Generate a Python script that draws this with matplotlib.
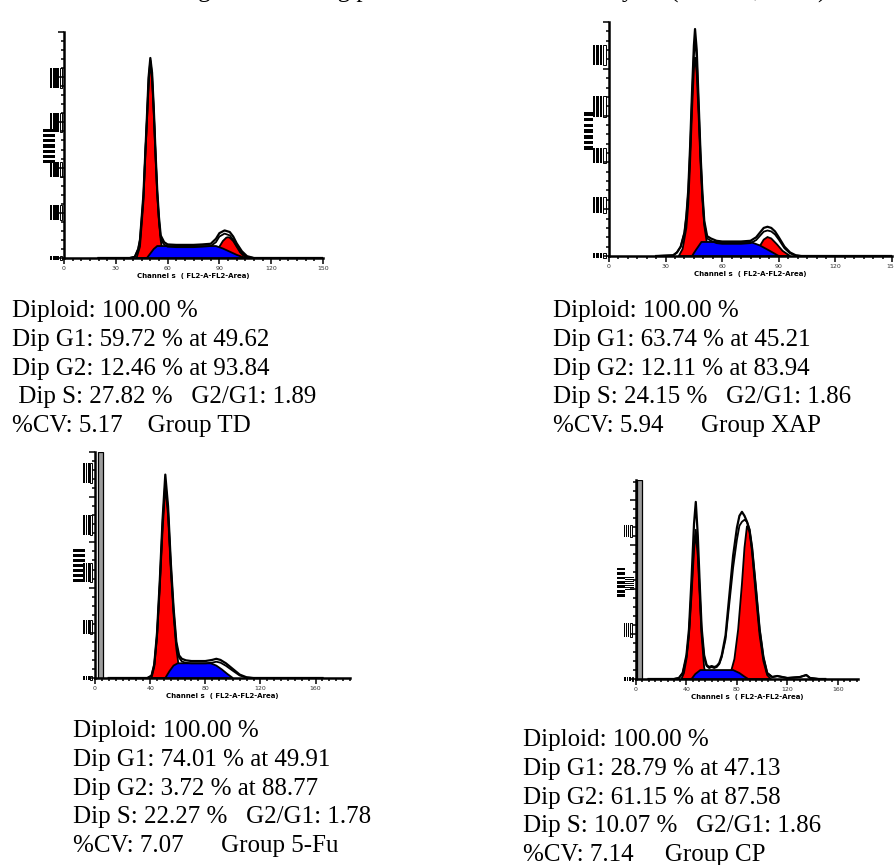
import matplotlib
matplotlib.use('Agg')
import matplotlib.pyplot as plt
from matplotlib.patches import Rectangle
from matplotlib.ticker import MultipleLocator

# ---------------- data (channel, % of y range) ----------------
# Group TD
td_ch = [20, 38, 41, 43, 44, 46, 48, 49, 50, 51, 52, 53, 54, 55, 56, 57, 58, 60, 65, 70, 75, 80, 85,
         88, 90, 93, 96, 98, 100, 103, 106, 110, 150]
td_hist = [0, 0, 0.5, 4, 8, 28, 62, 80, 88.5, 82, 66, 47, 30, 18, 10, 8.5, 7, 6, 5.8, 5.8, 5.8, 6, 6.3,
           8.5, 11, 12.2, 11.5, 9.5, 6.5, 3, 0.8, 0, 0]
td_hist2 = [0, 0, 0.5, 4, 8, 27, 61, 79, 87.5, 81, 65, 46, 29, 17, 9, 7, 6, 5, 4.8, 4.8, 4.8, 5, 5.3,
            7, 9.5, 10.8, 10, 8, 5.3, 2.2, 0.5, 0, 0]
td_g1_ch = [42, 44, 46, 47, 48, 49, 50, 51, 52, 53, 54, 55, 56, 57, 58, 60]
td_g1 = [0, 5, 25, 45, 60, 76, 87, 79, 64, 45, 28, 16, 8, 3, 1, 0]
td_g2_ch = [84, 87, 90, 92, 94, 95, 96, 98, 100, 102, 104, 107]
td_g2 = [0, 2, 5, 7.5, 9, 9.2, 9, 7.5, 5, 2.5, 1, 0]
td_s_ch = [48, 50, 52, 54, 88, 92, 96, 100, 105]
td_s = [0, 2, 4, 5.3, 5.3, 4.2, 2.8, 1.4, 0]

# Group XAP
xap_ch = [25, 34, 36, 38, 40, 41, 42, 43, 44, 45, 45.6, 46.5, 47.5, 48.5, 49.5, 50.5, 52, 54, 57, 60,
          65, 70, 75, 78, 80, 82, 84, 86, 88, 90, 93, 96, 99, 102, 150]
xap_hist = [0, 0.3, 1.5, 4, 10, 17, 28, 47, 70, 90, 97, 88, 66, 44, 27, 15, 8.5, 7.5, 6.5, 6.2,
            6.2, 6.2, 6.5, 8, 10, 12, 12.5, 12, 10.5, 8, 4, 1.5, 0.3, 0, 0]
xap_hist2 = [0, 0.3, 1.5, 4, 10, 17, 27, 45, 67, 86, 92, 85, 64, 43, 26, 14, 7.5, 6.5, 5.5, 5.2,
             5.2, 5.2, 5.5, 6.8, 8.6, 10.4, 10.9, 10.5, 9.2, 7, 3.3, 1.1, 0.2, 0, 0]
xap_g1_ch = [37, 39, 41, 42, 43, 44, 45, 45.6, 46.5, 47.5, 48.5, 49.5, 50.5, 52, 54, 56]
xap_g1 = [0, 3, 12, 22, 40, 62, 80, 85, 78, 60, 40, 24, 13, 5, 1.5, 0]
xap_g2_ch = [76, 79, 82, 84, 86, 89, 92, 96]
xap_g2 = [0, 3, 7, 8.1, 7.5, 5, 2.2, 0]
xap_s_ch = [44, 46, 49, 75, 80, 85, 90]
xap_s = [0, 2.5, 6, 6, 4.5, 2.3, 0]

# Group 5-Fu
fu_ch = [10, 38, 41, 43, 45, 47, 49, 51, 53, 55, 57, 59, 61, 63, 66, 70, 75, 80, 85, 88, 91, 95,
         100, 105, 110, 115, 165]
fu_hist = [0, 0, 1, 6, 20, 43, 70, 90, 76, 51, 31, 16, 10, 8.5, 7.8, 7.5, 7.5, 7.5, 8, 8.5, 8, 6.5,
           4, 1.5, 0.3, 0, 0]
fu_hist2 = [0, 0, 1, 6, 19, 42, 68, 87, 74, 50, 30, 15, 9, 7.3, 6.7, 6.5, 6.5, 6.5, 6.8, 7.2, 6.8,
            5.4, 3.2, 1.1, 0.2, 0, 0]
fu_g1_ch = [41, 43, 45, 47, 49, 51, 53, 55, 57, 59, 61, 63]
fu_g1 = [0, 5, 18, 40, 65, 85, 72, 48, 28, 13, 4, 0]
fu_s_ch = [51, 54, 57, 60, 84, 88, 92, 96, 100]
fu_s = [0, 3, 5.5, 6.5, 6.5, 5.5, 3.8, 1.8, 0]
fu_gate = [2.4, 6.0]

# Group CP
cp_ch = [10, 30, 34, 37, 40, 42, 44, 46, 47.4, 49, 50.5, 52, 54, 56, 58, 60, 62, 64, 66, 68, 71, 74,
         77, 80, 82, 84, 86, 88, 90, 92, 95, 98, 101, 104, 108, 112, 120, 130, 135, 138, 145, 150]
cp_hist = [0, 0, 0.5, 3, 12, 25, 50, 78, 89, 72, 48, 26, 12, 7, 6, 6.5, 6, 6.5, 8, 12, 22, 42,
           62, 76, 82, 84, 82, 79, 75, 66, 46, 25, 11, 3, 1, 1.5, 0.5, 1, 2, 0.5, 0, 0]
cp_hist2 = [0, 0, 0.5, 3, 11, 23, 45, 68, 75, 65, 44, 24, 11, 6.5, 5.5, 6, 5.5, 6, 7.5, 11, 20, 38,
            56, 70, 77, 79, 80, 79, 75, 66, 46, 25, 11, 3, 1, 1.5, 0.5, 1, 2, 0.5, 0, 0]
cp_g1_ch = [36, 38, 40, 42, 44, 46, 47.4, 49, 50.5, 52, 54, 56]
cp_g1 = [0, 3, 10, 22, 42, 65, 73, 62, 42, 22, 6, 0]
cp_g2_ch = [72, 75, 78, 81, 84, 86, 88, 90, 92, 95, 98, 101, 104, 107]
cp_g2 = [0, 3, 10, 25, 48, 66, 77, 74, 64, 42, 22, 9, 2, 0]
cp_s_ch = [44, 47, 51, 77, 82, 86, 89]
cp_s = [0, 2.5, 4.5, 4.5, 3, 1.2, 0]
cp_gate = [0.8, 4.8]

td_text = ["Diploid: 100.00 %", "Dip G1: 59.72 % at 49.62", "Dip G2: 12.46 % at 93.84",
           " Dip S: 27.82 %   G2/G1: 1.89", "%CV: 5.17    Group TD"]
xap_text = ["Diploid: 100.00 %", "Dip G1: 63.74 % at 45.21", "Dip G2: 12.11 % at 83.94",
            "Dip S: 24.15 %   G2/G1: 1.86", "%CV: 5.94      Group XAP"]
fu_text = ["Diploid: 100.00 %", "Dip G1: 74.01 % at 49.91", "Dip G2: 3.72 % at 88.77",
           "Dip S: 22.27 %   G2/G1: 1.78", "%CV: 7.07      Group 5-Fu"]
cp_text = ["Diploid: 100.00 %", "Dip G1: 28.79 % at 47.13", "Dip G2: 61.15 % at 87.58",
           "Dip S: 10.07 %   G2/G1: 1.86", "%CV: 7.14     Group CP"]

W, H = 894, 865
fig = plt.figure(figsize=(W / 100, H / 100), dpi=100)


def add_ax(left, bottom, width, height):
    # pixel box -> figure fraction
    return fig.add_axes([left / W, 1 - bottom / H, width / W, height / H])


def garbled(ax, blocks):
    # the unreadable y tick labels of the cytometer export
    for x0, x1, y0, y1, kind in blocks:
        w, h = x1 - x0, y1 - y0
        if kind == 'v':
            for k in range(3):
                ax.add_patch(Rectangle((x0 + k * w / 4, y0), w / 4 * 0.72, h, transform=ax.transAxes,
                                       fc='black', lw=0, clip_on=False))
            ax.add_patch(Rectangle((x0 + 3 * w / 4, y0), w / 4 * 0.75, h, transform=ax.transAxes,
                                   fc='white', ec='black', lw=0.7, clip_on=False))
        else:
            n = 7
            for k in range(n):
                ax.add_patch(Rectangle((x0, y0 + k * h / n), w, h / n * 0.62, transform=ax.transAxes,
                                       fc='black', lw=0, clip_on=False))


def panel(ax, xmax, major, ystep, ch, hist, hist2, g1, g2, s, gate=None, blocks=()):
    if gate is not None:
        ax.add_patch(Rectangle((gate[0], 0), gate[1] - gate[0], 100, fc='#9c9c9c', ec='black',
                               lw=0.9, zorder=2))
    for gx, gy in (g1, g2):
        if gx:
            ax.fill(gx, gy, fc='#ff0000', ec='black', lw=1.3, zorder=2)
    ax.fill(s[0], s[1], fc='#0000ff', ec='black', lw=1.3, zorder=3)
    ax.plot(ch, hist2, color='black', lw=1.3, zorder=4)
    ax.plot(ch, hist, color='black', lw=1.6, zorder=4)
    ax.set_xlim(0, xmax)
    ax.set_ylim(0, 100)
    for sp in ('top', 'right'):
        ax.spines[sp].set_visible(False)
    for sp in ('left', 'bottom'):
        ax.spines[sp].set_linewidth(1.8)
    ax.xaxis.set_major_locator(MultipleLocator(major))
    ax.xaxis.set_minor_locator(MultipleLocator(5))
    ax.yaxis.set_major_locator(MultipleLocator(ystep * 5))
    ax.yaxis.set_minor_locator(MultipleLocator(ystep))
    ax.tick_params(which='major', direction='out', length=4, width=1.1, labelsize=4.5,
                   labelcolor='#333333', pad=1.5)
    ax.tick_params(which='minor', direction='out', length=2.5, width=1.1)
    ax.tick_params(axis='y', labelleft=False)
    ax.set_xlabel('Channel s  ( FL2-A-FL2-Area)', fontsize=5, fontweight='bold', labelpad=1.5)
    ax.set_facecolor('none')
    garbled(ax, blocks)


ax1 = add_ax(64, 258, 259, 226)
panel(ax1, 150, 30, 4, td_ch, td_hist, td_hist2, (td_g1_ch, td_g1), (td_g2_ch, td_g2),
      (td_s_ch, td_s),
      blocks=[(-0.054, -0.004, 0.752, 0.841, 'v'), (-0.054, -0.004, 0.558, 0.642, 'v'),
              (-0.081, -0.035, 0.42, 0.58, 'h'), (-0.054, -0.004, 0.358, 0.425, 'v'),
              (-0.054, -0.004, 0.168, 0.235, 'v'), (-0.054, -0.004, -0.009, 0.009, 'v')])

ax2 = add_ax(609, 256, 283, 234)
panel(ax2, 150, 30, 4, xap_ch, xap_hist, xap_hist2, (xap_g1_ch, xap_g1), (xap_g2_ch, xap_g2),
      (xap_s_ch, xap_s),
      blocks=[(-0.057, -0.007, 0.816, 0.902, 'v'), (-0.057, -0.007, 0.594, 0.684, 'v'),
              (-0.088, -0.057, 0.453, 0.624, 'h'), (-0.057, -0.007, 0.397, 0.462, 'v'),
              (-0.057, -0.007, 0.184, 0.252, 'v'), (-0.057, -0.007, -0.009, 0.013, 'v')])

ax3 = add_ax(95, 678, 255, 226)
panel(ax3, 185, 40, 4, fu_ch, fu_hist, fu_hist2, (fu_g1_ch, fu_g1), ([], []), (fu_s_ch, fu_s),
      gate=fu_gate,
      blocks=[(-0.047, -0.008, 0.863, 0.951, 'v'), (-0.047, -0.008, 0.633, 0.721, 'v'),
              (-0.086, -0.039, 0.425, 0.58, 'h'), (-0.047, -0.008, 0.425, 0.509, 'v'),
              (-0.047, -0.008, 0.195, 0.257, 'v'), (-0.047, -0.008, -0.009, 0.009, 'v')])

ax4 = add_ax(636, 679, 222, 199)
panel(ax4, 176, 40, 4.5, cp_ch, cp_hist, cp_hist2, (cp_g1_ch, cp_g1), (cp_g2_ch, cp_g2),
      (cp_s_ch, cp_s), gate=cp_gate,
      blocks=[(-0.054, -0.018, 0.714, 0.774, 'v'), (-0.086, -0.05, 0.412, 0.568, 'h'),
              (-0.05, -0.009, 0.447, 0.518, 'h'), (-0.054, -0.018, 0.211, 0.281, 'v'),
              (-0.054, -0.009, -0.01, 0.01, 'v')])

# statistics text under each histogram
serif = ['Liberation Serif', 'DejaVu Serif']
for lines, x, y0 in ((td_text, 12, 317), (xap_text, 553, 317), (fu_text, 73, 737), (cp_text, 523, 746)):
    for i, line in enumerate(lines):
        fig.text(x / W, 1 - (y0 + i * 28.8) / H, line, fontsize=18, family=serif, va='baseline')

# title line, cut off by the top edge of the scan
fig.text(485 / W, 1 + 2.5 / H, 'Histograms showing phase distribution of cell cycle (ModFit, n = 3)',
         fontsize=18, family=serif, ha='center', va='baseline')

fig.savefig('out.png', dpi=100)
